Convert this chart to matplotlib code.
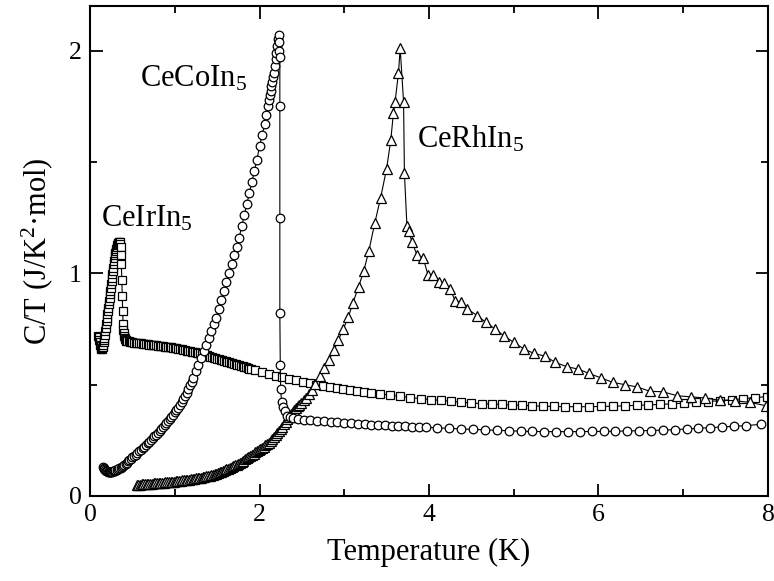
import matplotlib
matplotlib.use("Agg")
import matplotlib.pyplot as plt
from matplotlib.ticker import MultipleLocator

plt.rcParams["font.family"] = ["Liberation Serif", "DejaVu Serif"]
plt.rcParams["mathtext.fontset"] = "custom"
plt.rcParams["mathtext.rm"] = "Liberation Serif"

########################################################
# CeCoIn5 (circles)

co_T = [0.150, 0.160, 0.170, 0.180, 0.190, 0.200, 0.210, 0.220, 0.230, 0.240,
        0.250, 0.260, 0.270, 0.280, 0.290, 0.300, 0.315, 0.330, 0.345, 0.360,
        0.375, 0.390, 0.405, 0.420, 0.435, 0.450, 0.465, 0.480, 0.500, 0.520,
        0.540, 0.560, 0.580, 0.600, 0.620, 0.640, 0.660, 0.680, 0.700, 0.720,
        0.740, 0.760, 0.780, 0.800, 0.820, 0.840, 0.860, 0.880, 0.900, 0.920,
        0.940, 0.960, 0.980, 1.000, 1.020, 1.040, 1.060, 1.080, 1.100, 1.120,
        1.140, 1.160, 1.180, 1.200,
        1.22, 1.25, 1.28, 1.31, 1.34, 1.37, 1.40, 1.43, 1.46,
        1.49, 1.52, 1.55, 1.58, 1.61, 1.64, 1.67, 1.70, 1.73, 1.76,
        1.79, 1.82, 1.85, 1.88, 1.91, 1.94, 1.97, 2.00, 2.03, 2.06,
        2.08, 2.10, 2.11, 2.12, 2.13, 2.14, 2.15, 2.16, 2.17, 2.18,
        2.19, 2.20, 2.21, 2.22, 2.225, 2.23, 2.235, 2.24, 2.24, 2.24,
        2.24, 2.245, 2.25, 2.26, 2.28, 2.30, 2.33, 2.36, 2.40, 2.45,
        2.52, 2.60, 2.68, 2.76, 2.84, 2.92, 3.00, 3.08, 3.16, 3.24,
        3.32, 3.40, 3.48, 3.56, 3.64, 3.72, 3.80, 3.88, 3.96, 4.10,
        4.24, 4.38, 4.52, 4.66, 4.80, 4.94, 5.08, 5.22, 5.36, 5.50,
        5.64, 5.78, 5.92, 6.06, 6.20, 6.34, 6.48, 6.62, 6.76, 6.90,
        7.04, 7.18, 7.32, 7.46, 7.60, 7.74, 7.92]
co_CT = [0.130, 0.124, 0.119, 0.115, 0.112, 0.110, 0.108, 0.107, 0.107, 0.107,
         0.108, 0.109, 0.110, 0.111, 0.113, 0.115, 0.118, 0.120, 0.124, 0.127,
         0.131, 0.135, 0.139, 0.144, 0.149, 0.155, 0.160, 0.166, 0.173, 0.180,
         0.186, 0.193, 0.200, 0.207, 0.214, 0.221, 0.229, 0.236, 0.244, 0.252,
         0.260, 0.268, 0.276, 0.285, 0.294, 0.302, 0.310, 0.318, 0.326, 0.335,
         0.345, 0.355, 0.365, 0.375, 0.386, 0.397, 0.409, 0.422, 0.435, 0.448,
         0.463, 0.480, 0.497, 0.513,
         0.530, 0.560, 0.590, 0.620, 0.650, 0.680, 0.710, 0.740, 0.770,
         0.800, 0.840, 0.880, 0.920, 0.960, 1.000, 1.040, 1.080, 1.120, 1.160,
         1.210, 1.260, 1.310, 1.360, 1.410, 1.460, 1.510, 1.570, 1.620, 1.670,
         1.710, 1.750, 1.780, 1.800, 1.820, 1.840, 1.860, 1.880, 1.900, 1.930,
         1.960, 1.990, 2.020, 2.050, 2.070, 2.040, 2.000, 1.970, 1.750, 1.250,
         0.820, 0.590, 0.480, 0.420, 0.400, 0.380, 0.360, 0.355, 0.350, 0.345,
         0.342, 0.340, 0.337, 0.335, 0.333, 0.331, 0.329, 0.327, 0.325, 0.323,
         0.321, 0.320, 0.318, 0.316, 0.315, 0.313, 0.312, 0.310, 0.309, 0.306,
         0.304, 0.301, 0.299, 0.297, 0.295, 0.293, 0.291, 0.290, 0.289, 0.289,
         0.289, 0.289, 0.290, 0.290, 0.291, 0.292, 0.293, 0.294, 0.296, 0.298,
         0.301, 0.304, 0.307, 0.310, 0.313, 0.316, 0.322]

########################################################
# CeIrIn5 (squares)

ir_T = [0.100, 0.105, 0.110, 0.115, 0.120, 0.125, 0.130, 0.135, 0.140, 0.145,
        0.150, 0.155, 0.160, 0.165, 0.170, 0.175, 0.180, 0.185, 0.190, 0.195,
        0.200, 0.205, 0.210, 0.215, 0.220, 0.225, 0.230, 0.235, 0.240, 0.245,
        0.250, 0.255, 0.260, 0.265, 0.270, 0.275, 0.280, 0.285, 0.290, 0.295,
        0.300, 0.305, 0.310, 0.315, 0.320, 0.325, 0.330, 0.335, 0.340, 0.345,
        0.350, 0.355, 0.360, 0.365, 0.370, 0.375, 0.380, 0.385, 0.390, 0.395,
        0.400, 0.405, 0.410, 0.415, 0.420, 0.430, 0.440, 0.455, 0.470, 0.485,
        0.50, 0.52, 0.54, 0.56, 0.58, 0.60, 0.62, 0.64, 0.66, 0.68,
        0.70, 0.72, 0.74, 0.76, 0.78, 0.80, 0.82, 0.84, 0.86, 0.88,
        0.90, 0.92, 0.94, 0.96, 0.98, 1.00, 1.02, 1.04, 1.06, 1.08,
        1.10, 1.12, 1.14, 1.16, 1.18, 1.20, 1.22, 1.24, 1.26, 1.28,
        1.30, 1.32, 1.34, 1.36, 1.38, 1.40, 1.42, 1.44, 1.46, 1.48,
        1.50, 1.52, 1.54, 1.56, 1.58, 1.60, 1.62, 1.64, 1.66, 1.68,
        1.70, 1.72, 1.74, 1.76, 1.78, 1.80, 1.82, 1.84, 1.86, 1.88,
        1.90, 1.95, 2.03, 2.11, 2.19,
        2.27, 2.35, 2.43, 2.51, 2.59, 2.67, 2.75, 2.83, 2.91, 2.99,
        3.07, 3.15, 3.23, 3.31, 3.42, 3.54, 3.66, 3.78, 3.90, 4.02,
        4.14, 4.26, 4.38, 4.50, 4.62, 4.74, 4.86, 4.98, 5.10, 5.22,
        5.34, 5.47, 5.61, 5.75, 5.89, 6.03, 6.17, 6.31, 6.45, 6.59,
        6.73, 6.87, 7.01, 7.15, 7.29, 7.43, 7.57, 7.71, 7.85, 7.99]
ir_CT = [0.720, 0.712, 0.700, 0.690, 0.680, 0.672, 0.665, 0.661, 0.660, 0.663,
         0.670, 0.679, 0.690, 0.700, 0.710, 0.725, 0.740, 0.755, 0.770, 0.785,
         0.800, 0.815, 0.830, 0.845, 0.860, 0.875, 0.890, 0.905, 0.920, 0.935,
         0.950, 0.965, 0.980, 0.995, 1.010, 1.025, 1.040, 1.055, 1.070, 1.080,
         1.090, 1.100, 1.110, 1.118, 1.125, 1.130, 1.135, 1.138, 1.140, 1.141,
         1.140, 1.132, 1.120, 1.080, 1.040, 0.970, 0.900, 0.830, 0.770, 0.745,
         0.730, 0.718, 0.710, 0.704, 0.700, 0.698, 0.696, 0.695, 0.693, 0.692,
         0.690, 0.689, 0.688, 0.687, 0.686, 0.685, 0.684, 0.683, 0.682, 0.681,
         0.680, 0.679, 0.678, 0.677, 0.676, 0.675, 0.674, 0.673, 0.672, 0.671,
         0.670, 0.669, 0.668, 0.667, 0.666, 0.665, 0.663, 0.662, 0.660, 0.658,
         0.657, 0.655, 0.653, 0.652, 0.650, 0.648, 0.647, 0.645, 0.643, 0.642,
         0.640, 0.638, 0.635, 0.633, 0.631, 0.628, 0.626, 0.624, 0.621, 0.619,
         0.617, 0.614, 0.612, 0.610, 0.607, 0.605, 0.603, 0.600, 0.598, 0.596,
         0.593, 0.591, 0.589, 0.586, 0.584, 0.582, 0.579, 0.577, 0.575, 0.572,
         0.570, 0.565, 0.557, 0.549, 0.541,
         0.533, 0.526, 0.519, 0.512, 0.506, 0.500, 0.495, 0.490, 0.485, 0.480,
         0.476, 0.472, 0.468, 0.464, 0.458, 0.452, 0.447, 0.442, 0.437, 0.433,
         0.429, 0.425, 0.421, 0.418, 0.415, 0.413, 0.411, 0.409, 0.407, 0.405,
         0.403, 0.402, 0.401, 0.401, 0.401, 0.402, 0.403, 0.405, 0.407, 0.409,
         0.411, 0.414, 0.417, 0.420, 0.424, 0.428, 0.432, 0.437, 0.442, 0.446]

########################################################
# CeRhIn5 (triangles)

rh_T = [0.55, 0.57, 0.59, 0.61, 0.63, 0.65, 0.67, 0.69, 0.71, 0.73,
        0.75, 0.77, 0.79, 0.81, 0.83, 0.85, 0.87, 0.89, 0.91, 0.93,
        0.95, 0.97, 0.99, 1.01, 1.03, 1.05, 1.07, 1.09, 1.11, 1.13,
        1.15, 1.17, 1.19, 1.21, 1.23, 1.25, 1.27, 1.29, 1.31, 1.33,
        1.35, 1.37, 1.39, 1.41, 1.43, 1.45, 1.47, 1.49, 1.51, 1.53,
        1.55, 1.57, 1.59, 1.61, 1.63, 1.65, 1.67, 1.69, 1.71, 1.73,
        1.75, 1.77, 1.79, 1.81, 1.83, 1.85, 1.87, 1.89, 1.91, 1.93,
        1.95, 1.97, 1.99, 2.01, 2.03, 2.05, 2.07, 2.09, 2.11, 2.13,
        2.15, 2.17, 2.19, 2.21, 2.23, 2.25, 2.27, 2.29, 2.31, 2.33,
        2.35, 2.37, 2.39, 2.41, 2.43, 2.45, 2.47, 2.49, 2.52, 2.55,
        2.58, 2.62, 2.66,
        2.71, 2.76, 2.82, 2.88, 2.93, 2.99, 3.05, 3.10, 3.17, 3.23,
        3.29, 3.36, 3.43, 3.50, 3.55, 3.58, 3.60, 3.64, 3.66, 3.70,
        3.71, 3.74, 3.76, 3.80, 3.86, 3.93, 3.99, 4.05, 4.12, 4.18,
        4.25, 4.31, 4.38, 4.45, 4.57, 4.67, 4.78, 4.88, 5.00, 5.12,
        5.24, 5.37, 5.49, 5.63, 5.76, 5.89, 6.03, 6.17, 6.31, 6.45,
        6.61, 6.76, 6.93, 7.09, 7.26, 7.43, 7.61, 7.79, 7.98]
rh_CT = [0.0500, 0.0505, 0.0510, 0.0520, 0.0525, 0.0530, 0.0540, 0.0545, 0.0550, 0.0560,
         0.0565, 0.0570, 0.0580, 0.0585, 0.0590, 0.0600, 0.0605, 0.0610, 0.0620, 0.0625,
         0.0630, 0.0640, 0.0650, 0.0660, 0.0670, 0.0680, 0.0690, 0.0700, 0.0710, 0.0720,
         0.0730, 0.0740, 0.0750, 0.0760, 0.0770, 0.0790, 0.0800, 0.0810, 0.0830, 0.0840,
         0.0860, 0.0880, 0.0900, 0.0920, 0.0940, 0.0960, 0.0990, 0.1010, 0.1040, 0.1070,
         0.1090, 0.1120, 0.1150, 0.1190, 0.1220, 0.1250, 0.1290, 0.1330, 0.1370, 0.1410,
         0.1450, 0.1500, 0.1540, 0.1590, 0.1640, 0.1690, 0.1740, 0.1790, 0.1850, 0.1900,
         0.1960, 0.2000, 0.2050, 0.2100, 0.2150, 0.2210, 0.2270, 0.2330, 0.2400, 0.2470,
         0.2550, 0.2630, 0.2720, 0.2810, 0.2910, 0.3010, 0.3120, 0.3230, 0.3340, 0.3450,
         0.3560, 0.3660, 0.3760, 0.3850, 0.3940, 0.4020, 0.4100, 0.4180, 0.4300, 0.4420,
         0.4560, 0.4780, 0.5050,
         0.540, 0.575, 0.612, 0.655, 0.700, 0.750, 0.805, 0.865, 0.940, 1.010,
         1.100, 1.225, 1.340, 1.470, 1.600, 1.720, 1.770, 1.900, 2.010, 1.770,
         1.450, 1.210, 1.190, 1.140, 1.080, 1.070, 0.990, 0.990, 0.960, 0.955,
         0.930, 0.875, 0.870, 0.840, 0.810, 0.780, 0.750, 0.720, 0.690, 0.660,
         0.640, 0.628, 0.600, 0.580, 0.570, 0.550, 0.530, 0.510, 0.500, 0.490,
         0.470, 0.468, 0.450, 0.445, 0.440, 0.430, 0.428, 0.420, 0.405]

########################################################

fig = plt.figure(figsize=(7.74, 5.81), dpi=100)
ax = fig.add_axes([0.1163, 0.1463, 0.8759, 0.8434])

line_kw = dict(color="black", lw=0.8, mfc="white", mec="black", mew=0.9)
ax.plot(ir_T, ir_CT, marker="s", ms=6.0, **line_kw)
ax.plot(rh_T, rh_CT, marker="^", ms=7.0, **line_kw)
ax.plot(co_T, co_CT, marker="o", ms=6.2, **line_kw)

ax.text(0.13, 1.21, r"CeIrIn$\mathregular{_5}$", fontsize=22, va="baseline")
ax.text(0.59, 1.84, r"CeCoIn$\mathregular{_5}$", fontsize=22, va="baseline")
ax.text(3.86, 1.564, r"CeRhIn$\mathregular{_5}$", fontsize=22, va="baseline")

ax.set_xlim(0, 8)
ax.set_ylim(0, 2.2)
ax.xaxis.set_major_locator(MultipleLocator(2))
ax.xaxis.set_minor_locator(MultipleLocator(1))
ax.yaxis.set_major_locator(MultipleLocator(1))
ax.yaxis.set_minor_locator(MultipleLocator(0.5))
ax.tick_params(which="both", direction="in", top=True, right=True, width=1.3, labelsize=18.5)
ax.tick_params(which="major", length=9, pad=6)
ax.tick_params(which="minor", length=5)
for s in ax.spines.values():
    s.set_linewidth(1.5)

ax.set_xlabel("Temperature (K)", fontsize=22, labelpad=8)
ax.set_ylabel(r"C/T (J/K$\mathregular{^2}$·mol)", fontsize=22, labelpad=10)

fig.savefig("out.png", dpi=100)
